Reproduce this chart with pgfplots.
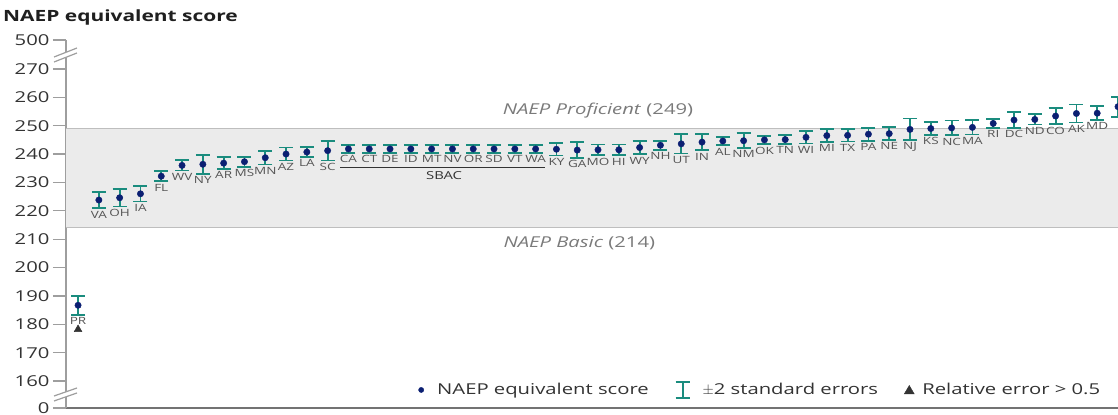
\documentclass[border=0pt]{standalone}
\usepackage{fontspec}
\setmainfont{Open Sans}[FakeStretch=1.35]
\usepackage{pgfplots}
\usepackage{pgfplotstable}
\pgfplotsset{compat=1.18}
\definecolor{navy}{HTML}{0B1F72}
\definecolor{teal2}{HTML}{1A8C7E}
\definecolor{band}{HTML}{EBEBEB}
\definecolor{bandline}{HTML}{BEBEBE}
\definecolor{txt}{HTML}{333333}
\definecolor{lab}{HTML}{555555}
\definecolor{note}{HTML}{7A7A7A}
\definecolor{axgray}{HTML}{9E9E9E}

\pgfplotstableread{
x y e lab
0 186.7 3.4 PR
1 223.8 2.9 VA
2 224.6 3.1 OH
3 226.0 2.7 IA
4 232.2 1.8 FL
5 236.0 1.8 WV
6 236.4 3.4 NY
7 236.8 2.1 AR
8 237.3 1.8 MS
9 238.7 2.4 MN
10 240.0 2.3 AZ
11 240.7 1.7 LA
12 241.2 3.5 SC
13 241.8 1.3 CA
14 241.8 1.3 CT
15 241.8 1.3 DE
16 241.8 1.3 ID
17 241.8 1.3 MT
18 241.8 1.3 NV
19 241.8 1.3 OR
20 241.8 1.3 SD
21 241.8 1.3 VT
22 241.8 1.3 WA
23 241.7 2.2 KY
24 241.4 2.8 GA
25 241.5 1.9 MO
26 241.5 1.9 HI
27 242.3 2.4 WY
28 243.1 1.6 NH
29 243.6 3.4 UT
30 244.2 2.9 IN
31 244.6 1.5 AL
32 244.7 2.6 NM
33 245.0 1.5 OK
34 245.1 1.5 TN
35 245.9 2.2 WI
36 246.5 2.2 MI
37 246.6 2.2 TX
38 247.0 2.3 PA
39 247.2 2.2 NE
40 248.7 3.8 NJ
41 249.0 2.2 KS
42 249.2 2.6 NC
43 249.4 2.5 MA
44 250.8 1.5 RI
45 252.0 2.8 DC
46 252.2 1.8 ND
47 253.4 2.9 CO
48 254.3 3.2 AK
49 254.4 2.4 MD
}\scores

\pgfplotstableread{
x y e
50 256.7 3.5
}\lastpt

\begin{document}
\begin{tikzpicture}
\begin{axis}[
  name=ax, scale only axis, width=1052pt, height=368pt,
  xmin=-0.58, xmax=50, ymin=150.5, ymax=280.2,
  axis x line*=bottom, axis y line*=left,
  x axis line style={-, draw=black!55, line width=1.2pt},
  y axis line style={-, draw=axgray, line width=1.5pt},
  xtick=\empty,
  ytick={150.5,160,170,180,190,200,210,220,230,240,250,260,270,280.2},
  yticklabels={0,160,170,180,190,200,210,220,230,240,250,260,270,500},
  tick align=outside, major tick length=13pt,
  y tick style={draw=axgray, line width=1.2pt},
  yticklabel style={font=\fontsize{15}{18}\selectfont, text=txt},
  /pgf/number format/assume math mode=true,
  legend columns=3,
  legend style={at={(rel axis cs:0.988,0.049)}, anchor=east, draw=none, fill=none,
    font=\fontsize{15}{18}\selectfont, text=txt,
    /tikz/every even column/.append style={column sep=24pt}},
]
\fill[band] (axis cs:-0.58,214) rectangle (axis cs:51,249);
\draw[bandline, line width=1.2pt] (axis cs:-0.58,249) -- (axis cs:51,249);
\draw[bandline, line width=1.2pt] (axis cs:-0.58,214) -- (axis cs:51,214);

\addlegendimage{legend image code/.code={\fill[navy] (0pt,0pt) circle (2.6pt); \path[draw=none,fill=none] (-3pt,0pt) -- (14pt,0pt);}}
\addlegendentry{NAEP equivalent score}
\addlegendimage{legend image code/.code={\draw[teal2,line width=1.8pt] (0pt,-8pt)--(0pt,8pt) (-7pt,8pt)--(7pt,8pt) (-7pt,-8pt)--(7pt,-8pt); \path[draw=none,fill=none] (-7pt,0pt) -- (18pt,0pt);}}
\addlegendentry{$\pm$2 standard errors}
\addlegendimage{legend image code/.code={\fill[txt] (-5pt,-4pt)--(5pt,-4pt)--(0pt,4.5pt)--cycle; \path[draw=none,fill=none] (-5pt,0pt) -- (11pt,0pt);}}
\addlegendentry{Relative error > 0.5}

\addplot[forget plot, only marks, mark=none,
  error bars/.cd, y dir=both, y explicit,
  error bar style={teal2, line width=1.8pt},
  error mark options={teal2, mark size=7pt, line width=1.8pt, rotate=90}]
  table[x=x, y=y, y error=e] {\scores};
\addplot[forget plot, only marks, mark=none,
  error bars/.cd, y dir=both, y explicit,
  error bar style={teal2, line width=1.8pt},
  error mark options={teal2, mark size=7pt, line width=1.8pt, rotate=90}]
  table[x=x, y=y, y error=e] {\lastpt};

\addplot[forget plot, only marks, mark=*, mark size=3.2pt, navy, mark options={fill=navy, draw=navy}]
  table[x=x, y=y] {\scores};
\addplot[forget plot, only marks, mark=*, mark size=3.2pt, navy, mark options={fill=navy, draw=navy}]
  table[x=x, y=y] {\lastpt};

\addplot[forget plot, only marks, mark=none, nodes near coords, point meta=explicit symbolic,
  nodes near coords style={anchor=north, font=\fontsize{10}{12}\selectfont, text=lab, inner sep=0.5pt, yshift=-2pt}]
  table[x=x, y expr=\thisrow{y}-\thisrow{e}, meta=lab] {\scores};

\addplot[forget plot, only marks, mark=triangle*, mark size=4.5pt, txt] coordinates {(0,178.2)};

\draw[txt, line width=0.9pt] (axis cs:12.6,235.2) -- (axis cs:22.45,235.2);
\node[font=\fontsize{11}{12}\selectfont, text=txt] at (axis cs:17.6,232.3) {SBAC};
\node[font=\fontsize{15}{18}\selectfont, text=note] at (axis cs:25.0,255.2) {\textit{NAEP Proficient} (249)};
\node[font=\fontsize{15}{18}\selectfont, text=note] at (axis cs:24.1,208.6) {\textit{NAEP Basic} (214)};
\end{axis}

% axis breaks
\fill[white] ([shift={(-12pt,-17pt)}]ax.north west) -- ([shift={(11pt,-8pt)}]ax.north west) -- ([shift={(11pt,-13pt)}]ax.north west) -- ([shift={(-12pt,-22pt)}]ax.north west) -- cycle;
\draw[axgray, line width=1.2pt] ([shift={(-12pt,-17pt)}]ax.north west) -- ([shift={(11pt,-8pt)}]ax.north west);
\draw[axgray, line width=1.2pt] ([shift={(-12pt,-22pt)}]ax.north west) -- ([shift={(11pt,-13pt)}]ax.north west);
\fill[white] ([shift={(-12pt,12pt)}]ax.south west) -- ([shift={(11pt,20pt)}]ax.south west) -- ([shift={(11pt,15pt)}]ax.south west) -- ([shift={(-12pt,7pt)}]ax.south west) -- cycle;
\draw[axgray, line width=1.2pt] ([shift={(-12pt,12pt)}]ax.south west) -- ([shift={(11pt,20pt)}]ax.south west);
\draw[axgray, line width=1.2pt] ([shift={(-12pt,7pt)}]ax.south west) -- ([shift={(11pt,15pt)}]ax.south west);

\node[anchor=base west, font=\bfseries\fontsize{15.5}{18}\selectfont, text=black!88, inner sep=0pt] at ([shift={(-63pt,18pt)}]ax.north west) {NAEP equivalent score};

\pgfresetboundingbox
\path ([shift={(-66pt,-7pt)}]ax.south west) rectangle ([shift={(0pt,40pt)}]ax.north east);
\end{tikzpicture}
\end{document}
